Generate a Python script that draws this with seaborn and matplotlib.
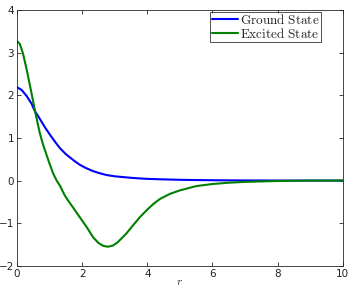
import numpy as np
import pandas as pd
import matplotlib
matplotlib.use("Agg")
import matplotlib.pyplot as plt
import seaborn as sns

# values
r_ground = [0, 0.15, 0.3, 0.45, 0.55, 0.7, 0.85, 1.0, 1.15, 1.32, 1.5, 1.63, 1.8, 1.93,
            2.1, 2.34, 2.55, 2.75, 3.0, 3.5, 3.77, 4.0, 4.4, 5.0, 5.5, 6.2, 7.0, 8.0, 9.0, 10.0]
ground = [2.19, 2.12, 1.98, 1.80, 1.63, 1.45, 1.26, 1.09, 0.93, 0.76, 0.62, 0.54, 0.44, 0.37,
          0.30, 0.22, 0.17, 0.13, 0.10, 0.065, 0.05, 0.04, 0.03, 0.018, 0.012, 0.007, 0.003,
          0.001, 0.0, 0.0]

r_excited = [0, 0.09, 0.19, 0.3, 0.4, 0.5, 0.55, 0.7, 0.8, 0.91, 1.0, 1.11, 1.22, 1.32, 1.47,
             1.6, 1.75, 1.93, 2.15, 2.34, 2.5, 2.65, 2.8, 2.95, 3.1, 3.37, 3.55, 3.77, 4.0,
             4.2, 4.39, 4.7, 5.0, 5.5, 6.0, 6.5, 7.0, 8.0, 9.0, 10.0]
excited = [3.27, 3.2, 2.97, 2.6, 2.23, 1.85, 1.65, 1.12, 0.85, 0.6, 0.4, 0.17, 0.0, -0.12, -0.35,
           -0.5, -0.66, -0.86, -1.1, -1.33, -1.46, -1.53, -1.55, -1.52, -1.44, -1.23, -1.06, -0.86,
           -0.68, -0.54, -0.43, -0.31, -0.23, -0.13, -0.08, -0.05, -0.03, -0.01, 0.0, 0.0]

df = pd.concat([
    pd.DataFrame({"r": r_ground, "psi": ground, "state": "Ground State"}),
    pd.DataFrame({"r": r_excited, "psi": excited, "state": "Excited State"}),
])

sns.set_style("ticks")
plt.rcParams["xtick.direction"] = "in"
plt.rcParams["ytick.direction"] = "in"
plt.rcParams["xtick.top"] = True
plt.rcParams["ytick.right"] = True
plt.rcParams["mathtext.fontset"] = "cm"

fig = plt.figure(figsize=(3.52, 2.90), dpi=100)
ax = fig.add_axes([0.048, 0.083, 0.926, 0.883])

sns.lineplot(data=df, x="r", y="psi", hue="state", sort=False, estimator=None,
             palette={"Ground State": "#0000ff", "Excited State": "#008000"},
             linewidth=1.5, ax=ax)

ax.set_xlim(0, 10)
ax.set_ylim(-2, 4)
ax.set_xticks([0, 2, 4, 6, 8, 10])
ax.set_yticks([-2, -1, 0, 1, 2, 3, 4])
ax.tick_params(labelsize=7.5, length=3, width=0.6, pad=2, colors="#222222")
for s in ax.spines.values():
    s.set_linewidth(0.6)
    s.set_visible(True)
ax.set_xlabel("$r$", fontsize=8, labelpad=-1)
ax.set_ylabel("")

leg = ax.legend(loc="upper right", bbox_to_anchor=(321 / 352, 1 - 11.5 / 290),
                bbox_transform=fig.transFigure, fontsize=9.5, frameon=True, fancybox=False,
                edgecolor="black", borderpad=0.1, handlelength=2.0, handletextpad=0.15,
                labelspacing=0.0, borderaxespad=0)
leg.get_frame().set_linewidth(0.6)
for t in leg.get_texts():
    t.set_text(r"$\mathrm{" + t.get_text().replace(" ", r"\ ") + "}$")

fig.savefig("out.png", dpi=100)
